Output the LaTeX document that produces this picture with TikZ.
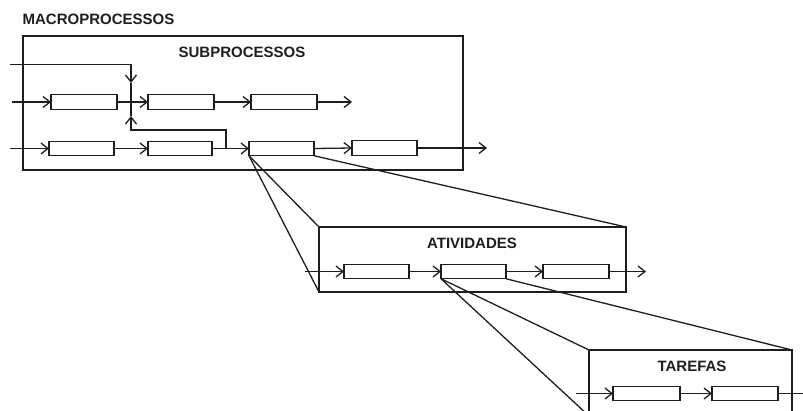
\documentclass[tikz,border=0pt]{standalone}
\usepackage{fontspec}
\setmainfont{Liberation Sans}
\usetikzlibrary{arrows.meta}
\definecolor{ink}{HTML}{1E1E1E}
\begin{document}
\begin{tikzpicture}[x=1pt,y=-1pt,line width=1.3pt,color=ink,
  pbox/.style={draw,fill=white,minimum width=66pt,minimum height=14.5pt,inner sep=0pt,outer sep=0pt},
  frame/.style={draw,inner sep=0pt,outer sep=0pt},
  title/.style={font=\fontsize{15}{18}\selectfont\bfseries,text=ink,inner sep=0pt},
  flow/.style={-{Straight Barb[length=7pt,width=11pt,line width=1.3pt]}}]
\useasboundingbox (0,0) rectangle (803,410);
\clip (0,0) rectangle (803,410);

% level frames
\node[frame,minimum width=440pt,minimum height=134pt] (sub) at (243,103) {};
\node[frame,minimum width=307pt,minimum height=65pt] (ativ) at (472.5,259.5) {};
\node[frame,minimum width=203pt,minimum height=66pt] (tar) at (690.5,383) {};

% titles
\node[title,anchor=west] (tmacro) at (22,19) {MACROPROCESSOS};
\node[title] (tsub) at (242,52) {SUBPROCESSOS};
\node[title] (tativ) at (472,243) {ATIVIDADES};
\node[title] (ttar) at (692,366) {TAREFAS};

% subprocess boxes
\node[pbox] (s11) at (84,102) {};
\node[pbox] (s12) at (181,102) {};
\node[pbox] (s13) at (284,102) {};
\node[pbox,minimum width=65pt] (s21) at (81.5,148.5) {};
\node[pbox,minimum width=64pt] (s22) at (180,148.5) {};
\node[pbox,minimum width=65pt] (s23) at (281.5,148.5) {};
\node[pbox,minimum width=65pt] (s24) at (384.5,148) {};

% activity boxes
\node[pbox,minimum width=65pt] (a1) at (376.5,271.5) {};
\node[pbox,minimum width=65pt] (a2) at (473.5,271.5) {};
\node[pbox] (a3) at (576,271.5) {};

% task boxes
\node[pbox,minimum width=67pt] (t1) at (646.5,393.5) {};
\node[pbox] (t2) at (745,393.5) {};

% free ends of the flows
\coordinate (in0) at (10,64.5);
\coordinate (dnTip) at (131,83);
\coordinate (upTip) at (131,116);
\coordinate (loopC) at (131,130);
\coordinate (j2) at (226,148.5);
\coordinate (in1) at (12,102);
\coordinate (out1) at (352,102);
\coordinate (in2) at (10,148.5);
\coordinate (out2) at (487,148);
\coordinate (in3) at (305,271.5);
\coordinate (out3) at (646,271.5);
\coordinate (in4) at (576,393.5);
\coordinate (out4) at (812,393.5);

% subprocess flows
\draw[flow] (in0) -| (dnTip);
\draw (dnTip) -- (upTip);
\draw[flow] (j2) |- (loopC) -- (upTip);
\draw[flow] (in1) -- (s11.west);
\draw[flow] (s11.east) -- (s12.west);
\draw[flow] (s12.east) -- (s13.west);
\draw[flow] (s13.east) -- (out1);
\draw[flow] (in2) -- (s21.west);
\draw[flow] (s21.east) -- (s22.west);
\draw[flow] (s22.east) -- (s23.west);
\draw[flow] (s23.east) -- (s24.west);
\draw[flow] (s24.east) -- (out2);

% activity flows
\draw[flow] (in3) -- (a1.west);
\draw[flow] (a1.east) -- (a2.west);
\draw[flow] (a2.east) -- (a3.west);
\draw[flow] (a3.east) -- (out3);

% task flows
\draw[flow] (in4) -- (t1.west);
\draw[flow] (t1.east) -- (t2.west);
\draw[flow] (t2.east) -- (out4);

% zoom lines from a box to its detail frame
\draw (s23.south west) -- (ativ.north west);
\draw (s23.south west) -- (ativ.south west);
\draw (s23.south east) -- (ativ.north east);
\draw (a2.south west) -- (tar.north west);
\draw (a2.south west) -- (tar.south west);
\draw (a2.south east) -- (tar.north east);
\end{tikzpicture}
\end{document}
